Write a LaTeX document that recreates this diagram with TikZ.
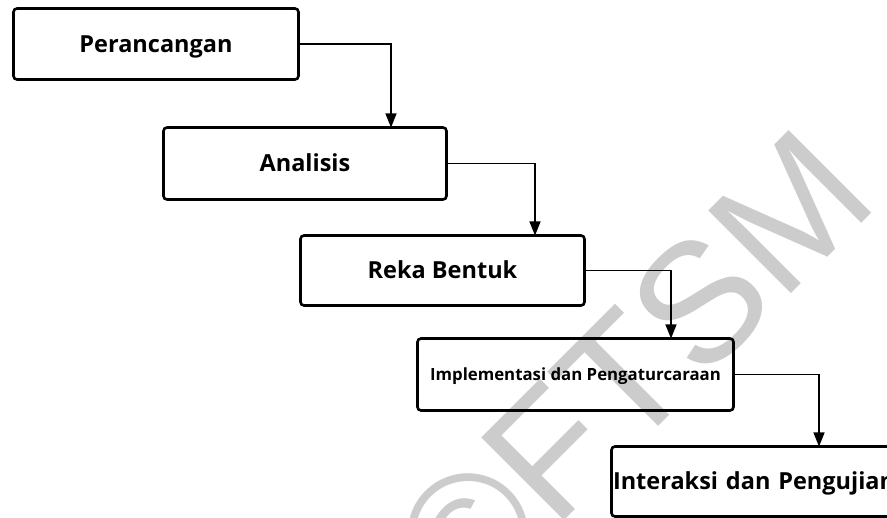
\documentclass[tikz,border=0pt]{standalone}
\usepackage{fontspec}
\setmainfont{Open Sans}
\newfontfamily\wmfont{Liberation Sans}
\usetikzlibrary{arrows.meta}
\tikzset{
  stagebox/.style={draw=black, line width=2.6pt, rounded corners=3.5pt, inner sep=0pt, outer sep=0pt,
    text height=16.8pt, text depth=0pt,
    font=\bfseries\fontsize{23.5}{28}\selectfont},
  smalltext/.style={text height=12pt, font=\bfseries\fontsize{16.8}{20}\selectfont},
  conn/.style={line width=1.3pt, -{Triangle[length=14pt,width=11pt]}},
  wmark/.style={text=black!20, font=\wmfont\fontsize{170}{170}\selectfont,
    inner sep=0pt, anchor=base west, rotate=45}
}
\begin{document}
\begin{tikzpicture}[x=1pt,y=-1pt]
\useasboundingbox (0,0) rectangle (887,518);
% watermark
\node[wmark] (wm) at (465.6,619.4) {©FTSM};
% stages
\node[stagebox, minimum width=285pt, minimum height=71pt] (b1) at (156,44) {Perancangan};
\node[stagebox, minimum width=283pt, minimum height=72pt] (b2) at (305,163.5) {Analisis};
\node[stagebox, minimum width=284pt, minimum height=70pt] (b3) at (442.5,270.5) {Reka Bentuk};
\node[stagebox, smalltext, minimum width=316pt, minimum height=72pt] (b4) at (575.5,374.5) {Implementasi dan Pengaturcaraan};
\node[stagebox, minimum height=70pt, text width=300pt, align=left, inner xsep=1.5pt, anchor=west] (b5) at (611.5,481.5) {Interaksi dan Pengujian};
% bend columns
\coordinate (k1) at (391,0);
\coordinate (k2) at (535,0);
\coordinate (k3) at (671,0);
\coordinate (k4) at (819,0);
% connectors
\draw[conn] (b1.east) -| (k1 |- b2.north);
\draw[conn] (b2.east) -| (k2 |- b3.north);
\draw[conn] (b3.east) -| (k3 |- b4.north);
\draw[conn] (b4.east) -| (k4 |- b5.north);
\end{tikzpicture}
\end{document}
